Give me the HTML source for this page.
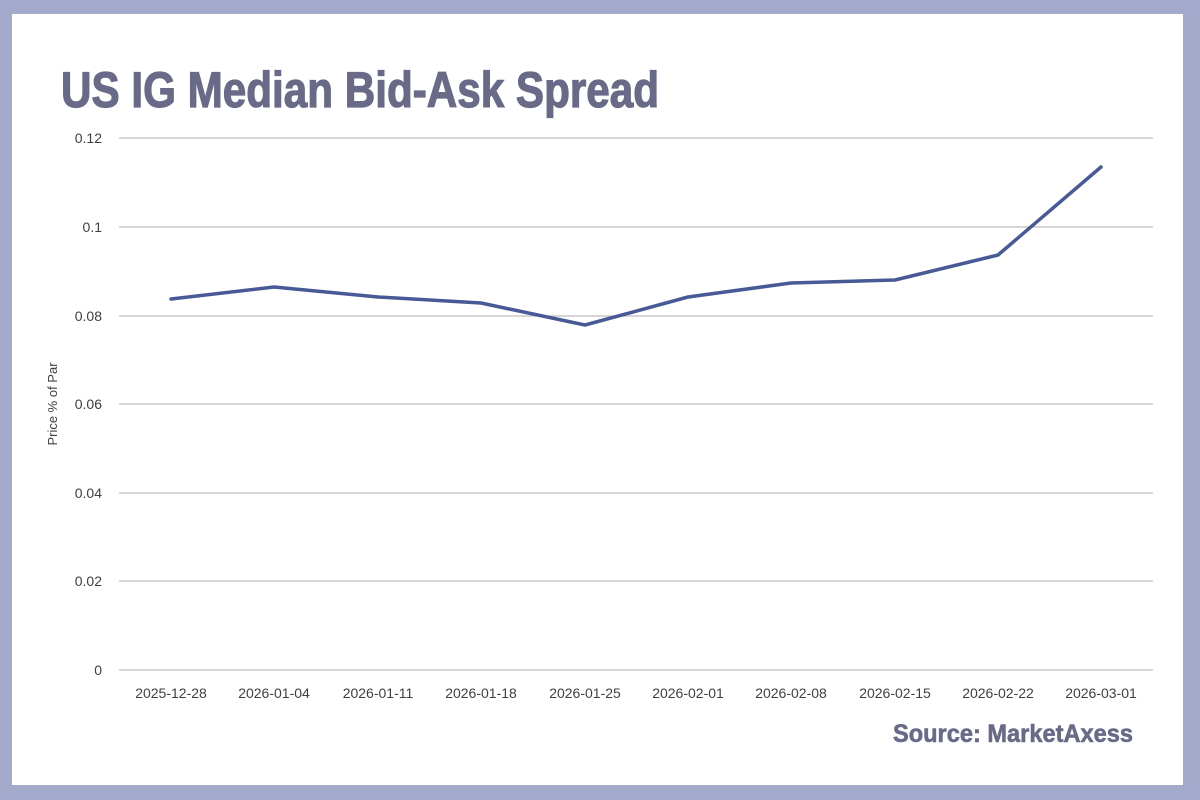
<!DOCTYPE html>
<html><head><meta charset="utf-8"><style>
html,body{margin:0;padding:0}
body{width:1200px;height:800px;background:#a2a9cb;position:relative;overflow:hidden;font-family:"Liberation Sans",sans-serif}
#w{position:absolute;left:12px;top:14px;width:1171px;height:771px;background:#fff}
</style></head><body>
<div id="w"></div>
<svg width="1200" height="800" style="position:absolute;left:0;top:0">
<text x="61" y="107" font-family="Liberation Sans Narrow, Liberation Sans, sans-serif" font-weight="bold" font-size="50" fill="#686a88" stroke="#686a88" stroke-width="1.2" textLength="598" lengthAdjust="spacingAndGlyphs">US IG Median Bid-Ask Spread</text>
<g stroke="#c8c8c8" stroke-width="1.5">
<line x1="119" x2="1153" y1="138" y2="138"/><line x1="119" x2="1153" y1="227" y2="227"/>
<line x1="119" x2="1153" y1="316" y2="316"/><line x1="119" x2="1153" y1="404" y2="404"/>
<line x1="119" x2="1153" y1="493" y2="493"/><line x1="119" x2="1153" y1="581" y2="581"/>
<line x1="119" x2="1153" y1="670" y2="670"/>
</g>
<g font-size="14" fill="#404040" text-anchor="end">
<text x="102" y="143">0.12</text><text x="102" y="232">0.1</text><text x="102" y="321">0.08</text>
<text x="102" y="409">0.06</text><text x="102" y="498">0.04</text><text x="102" y="586">0.02</text>
<text x="102" y="675">0</text>
</g>
<text transform="translate(57,404) rotate(-90)" font-size="13" fill="#404040" text-anchor="middle">Price % of Par</text>
<g font-size="14" fill="#404040" text-anchor="middle">
<text x="171" y="698">2025-12-28</text><text x="274" y="698">2026-01-04</text><text x="378" y="698">2026-01-11</text>
<text x="481" y="698">2026-01-18</text><text x="585" y="698">2026-01-25</text><text x="688" y="698">2026-02-01</text>
<text x="791" y="698">2026-02-08</text><text x="895" y="698">2026-02-15</text><text x="998" y="698">2026-02-22</text>
<text x="1101" y="698">2026-03-01</text>
</g>
<polyline fill="none" stroke="#485a95" stroke-width="3.5" stroke-linejoin="round" stroke-linecap="round"
points="171,299 274,287 378,297 481,303 585,325 688,297 791,283 895,280 998,255 1101,167"/>
<text x="1133" y="742" text-anchor="end" font-family="Liberation Sans Narrow, Liberation Sans, sans-serif" font-weight="bold" font-size="25" fill="#686a88" stroke="#686a88" stroke-width="0.6" textLength="240" lengthAdjust="spacingAndGlyphs">Source: MarketAxess</text>
</svg>
</body></html>
